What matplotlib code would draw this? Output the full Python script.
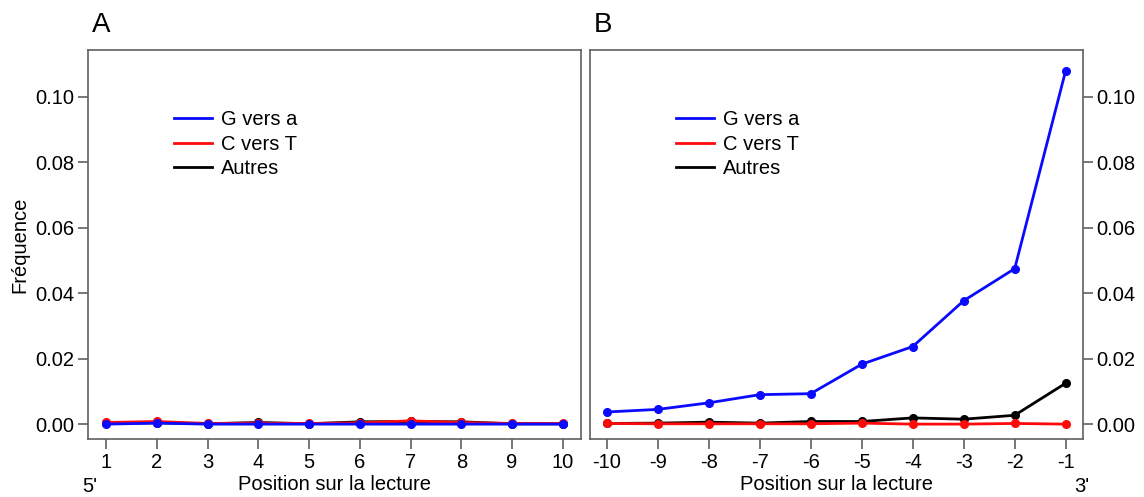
import matplotlib
matplotlib.use("Agg")
from matplotlib import pyplot as plt

# positions on the read
pos_5 = [1, 2, 3, 4, 5, 6, 7, 8, 9, 10]
pos_3 = [-10, -9, -8, -7, -6, -5, -4, -3, -2, -1]
yticks = [0.00, 0.02, 0.04, 0.06, 0.08, 0.10]

# panel A (5' end)
ga_5 = [0.0000, 0.0003, 0.0000, 0.0000, 0.0000, 0.0000, 0.0000, 0.0000, 0.0000, 0.0000]
ct_5 = [0.0005, 0.0008, 0.0002, 0.0003, 0.0002, 0.0004, 0.0010, 0.0005, 0.0002, 0.0002]
autres_5 = [0.0002, 0.0004, 0.0001, 0.0005, 0.0001, 0.0007, 0.0008, 0.0007, 0.0001, 0.0001]

# panel B (3' end)
ga_3 = [0.0037, 0.0045, 0.0065, 0.0090, 0.0093, 0.0183, 0.0237, 0.0377, 0.0475, 0.1080]
ct_3 = [0.0002, 0.0001, 0.0001, 0.0001, 0.0001, 0.0003, 0.0000, 0.0000, 0.0002, 0.0000]
autres_3 = [0.0002, 0.0003, 0.0006, 0.0003, 0.0008, 0.0008, 0.0019, 0.0015, 0.0027, 0.0125]

labels = ["G vers a", "C vers T", "Autres"]
colors = ["#0a0aff", "#ff0a0a", "#000000"]

plt.rcParams["font.family"] = ["Liberation Sans", "DejaVu Sans"]
plt.rcParams["font.size"] = 14
plt.rcParams["axes.unicode_minus"] = False

frame_col = "#606060"
fs = 14.5


def style_axes(ax, xs, xlim):
    ax.set_xlim(*xlim)
    ax.set_ylim(-0.0047, 0.1143)
    ax.set_xticks(xs)
    ax.set_yticks(yticks)
    ax.set_yticklabels(["%.2f" % v for v in yticks])
    for s in ax.spines.values():
        s.set_color(frame_col)
        s.set_linewidth(1.2)
    ax.tick_params(length=7.5, width=1.2, color=frame_col, labelsize=fs, pad=2)
    ax.set_xlabel("Position sur la lecture", fontsize=fs, labelpad=2.5)


def draw_legend(ax):
    handles = [plt.Line2D([], [], color=c, lw=2) for c in colors]
    ax.legend(handles, labels, loc="upper left", bbox_to_anchor=(0.175, 0.845),
              frameon=False, fontsize=fs, handlelength=1.87, handletextpad=0.45,
              labelspacing=0.27, borderpad=0, borderaxespad=0)


fig = plt.figure(figsize=(11.44, 4.97), dpi=100)
axA = fig.add_axes([0.0765, 0.1157, 0.4318, 0.7837])
axB = fig.add_axes([0.5157, 0.1157, 0.431, 0.7837])

mk = dict(marker="o", markersize=5.5, lw=2)

# panel A
axA.plot(pos_5, autres_5, color=colors[2], **mk)
axA.plot(pos_5, ct_5, color=colors[1], **mk)
axA.plot(pos_5, ga_5, color=colors[0], **mk)
style_axes(axA, pos_5, (0.63, 10.37))
axA.set_ylabel("Fréquence", fontsize=fs, labelpad=4)
draw_legend(axA)

# panel B
axB.plot(pos_3, ga_3, color=colors[0], **mk)
axB.plot(pos_3, autres_3, color=colors[2], **mk)
axB.plot(pos_3, ct_3, color=colors[1], **mk)
style_axes(axB, pos_3, (-10.33, -0.66))
axB.yaxis.tick_right()
draw_legend(axB)

fig.text(0.080, 0.935, "A", fontsize=20)
fig.text(0.519, 0.935, "B", fontsize=20)
fig.text(0.072, 0.011, "5'", fontsize=fs)
fig.text(0.939, 0.011, "3'", fontsize=fs)

fig.savefig("out.png", dpi=100)
